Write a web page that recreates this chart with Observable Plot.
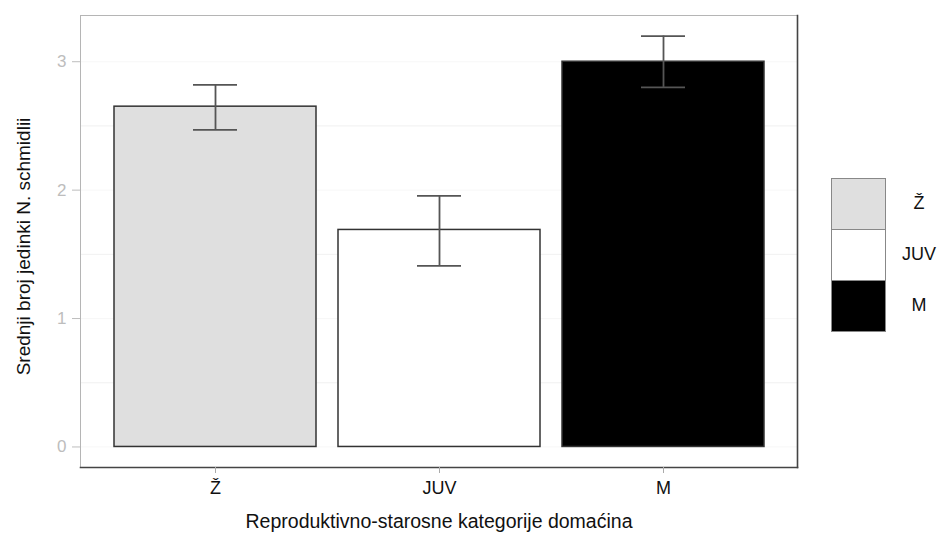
<!DOCTYPE html>
<html>
<head>
<meta charset="utf-8">
<script src="https://cdn.jsdelivr.net/npm/d3@7"></script>
<script src="https://cdn.jsdelivr.net/npm/@observablehq/plot@0.6"></script>
<style>
  html, body { margin: 0; padding: 0; background: #fff; }
  #wrap { position: relative; width: 942px; height: 538px; font-family: "Liberation Sans", Arial, sans-serif; }
  #legend { position: absolute; left: 831px; top: 178px; }
  .row { display: flex; align-items: center; height: 51px; }
  .box { width: 53px; height: 50px; border: 1px solid #888; box-sizing: content-box; }
  .lab { width: 66px; text-align: center; font-size: 18px; color: #111; margin-left: 0px; }
</style>
</head>
<body>
<div id="wrap"></div>
<script>
const categories = ["Ž", "JUV", "M"];
const means = [2.65, 1.69, 3.0];
const lower = [2.47, 1.41, 2.80];
const upper = [2.82, 1.955, 3.20];
const fills = ["#dfdfdf", "#ffffff", "#000000"];
const yTicks = [0, 1, 2, 3];
const yMinor = [0.5, 1.5, 2.5];
const xTitle = "Reproduktivno-starosne kategorije domaćina";
const yTitle = "Srednji broj jedinki N. schmidlii";

const data = categories.map((c, i) => ({cat: c, mean: means[i], lo: lower[i], hi: upper[i]}));

const chart = Plot.plot({
  width: 942,
  height: 538,
  marginLeft: 80,
  marginRight: 145,
  marginTop: 15,
  marginBottom: 71,
  style: {fontFamily: "Liberation Sans, Arial, sans-serif", fontSize: "18px", background: "#fff"},
  x: {domain: categories, paddingInner: 0.1, paddingOuter: 0.15, axis: null},
  y: {domain: [-0.16, 3.36], axis: null},
  color: {domain: categories, range: fills},
  marks: [
    Plot.gridY(yMinor, {stroke: "#ececec", strokeOpacity: 1, strokeWidth: 0.8}),
    Plot.gridY(yTicks, {stroke: "#f5f5f5", strokeOpacity: 1, strokeWidth: 0.8}),
    Plot.frame({stroke: "#b5b5b5", strokeWidth: 1}),
    Plot.frame({anchor: "right", stroke: "#444", strokeWidth: 1.6}),
    Plot.frame({anchor: "bottom", stroke: "#444", strokeWidth: 1.6}),
    Plot.barY(data, {x: "cat", y1: 0, y2: "mean", fill: "cat", stroke: "#333", strokeWidth: 1.5}),
    Plot.ruleX(data, {x: "cat", y1: "lo", y2: "hi", stroke: "#555", strokeWidth: 1.8}),
    Plot.tickY(data, {x: "cat", y: "lo", stroke: "#555", strokeWidth: 1.8, insetLeft: 79, insetRight: 79}),
    Plot.tickY(data, {x: "cat", y: "hi", stroke: "#555", strokeWidth: 1.8, insetLeft: 79, insetRight: 79}),
    Plot.axisY(yTicks, {tickSize: 8, tickPadding: 6, color: "#bdbdbd", fontSize: 17, tickFormat: d3.format("d"), label: null}),
    Plot.axisX(categories, {tickSize: 6, tickPadding: 8, stroke: "#aaa", fill: "#111", label: null, fontSize: 18}),
    Plot.text([xTitle], {frameAnchor: "bottom", dy: 60, fill: "#111", fontSize: 19.5}),
    Plot.text([yTitle], {frameAnchor: "left", dx: -57, dy: 5, rotate: -90, textAnchor: "middle", fill: "#111", fontSize: 19})
  ]
});

const wrap = document.getElementById("wrap");
wrap.appendChild(chart);

const legend = document.createElement("div");
legend.id = "legend";
categories.forEach((c, i) => {
  const row = document.createElement("div");
  row.className = "row";
  const box = document.createElement("div");
  box.className = "box";
  box.style.background = fills[i];
  const lab = document.createElement("div");
  lab.className = "lab";
  lab.textContent = c;
  row.appendChild(box);
  row.appendChild(lab);
  legend.appendChild(row);
});
wrap.appendChild(legend);
</script>
</body>
</html>
